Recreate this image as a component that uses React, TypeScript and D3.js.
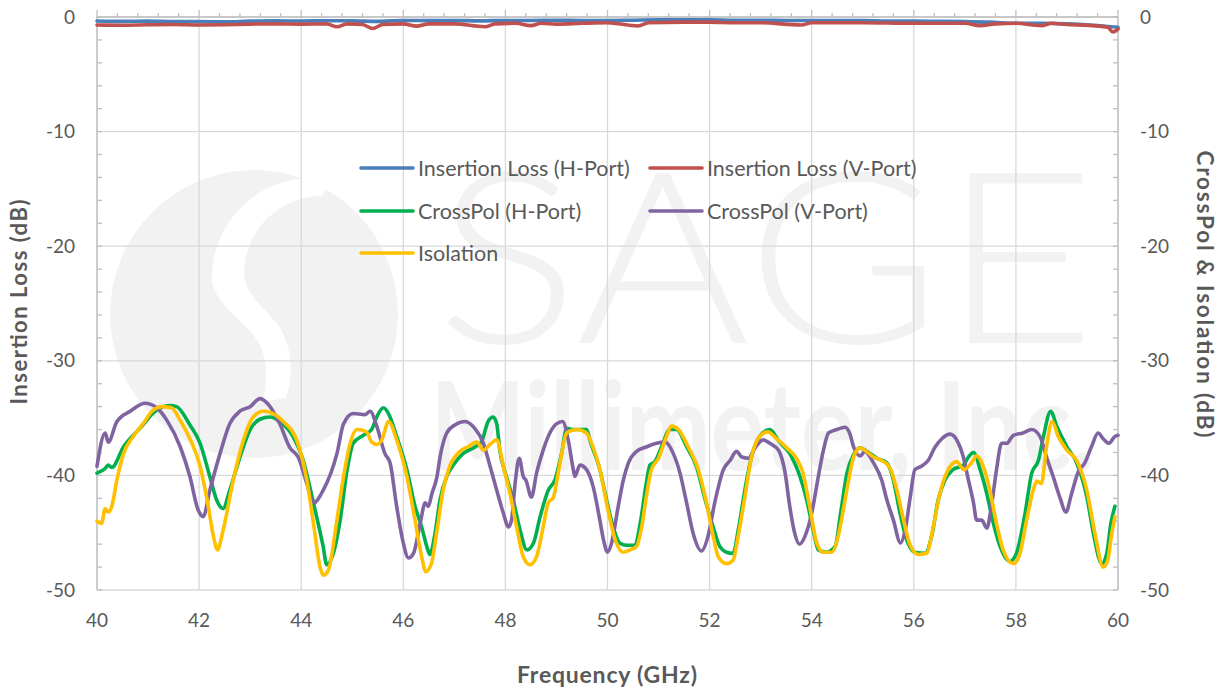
import React from 'react';
import * as d3 from 'd3';

// frequency (GHz) / level (dB) pairs
const insertionLossH: [number, number][] = [
  [40, -0.35], [40.5, -0.38], [41, -0.36], [41.5, -0.4], [42, -0.4], [42.5, -0.42], [43, -0.36],
  [43.5, -0.34], [44, -0.35], [44.5, -0.33], [45, -0.34], [45.5, -0.38], [46, -0.3], [46.5, -0.32],
  [47, -0.3], [47.5, -0.34], [48, -0.3], [48.5, -0.3], [49, -0.28], [49.5, -0.3], [50, -0.3],
  [50.5, -0.28], [51, -0.25], [51.5, -0.25], [52, -0.25], [52.5, -0.28], [53, -0.28], [53.5, -0.3],
  [54, -0.3], [54.5, -0.32], [55, -0.32], [55.5, -0.35], [56, -0.35], [56.5, -0.38], [57, -0.4],
  [57.5, -0.45], [58, -0.55], [58.5, -0.55], [59, -0.6], [59.5, -0.72], [60, -0.9],
];

const insertionLossV: [number, number][] = [
  [40, -0.7], [40.5, -0.72], [41, -0.68], [41.5, -0.66], [42, -0.7], [42.5, -0.68], [43, -0.62],
  [43.5, -0.6], [44, -0.62], [44.5, -0.6], [44.7, -0.85], [44.9, -0.6], [45.2, -0.65], [45.4, -1.0],
  [45.6, -0.65], [46, -0.6], [46.26, -0.8], [46.5, -0.6], [47, -0.6], [47.6, -0.85], [47.8, -0.6],
  [48.2, -0.55], [48.5, -0.75], [48.7, -0.55], [49, -0.62], [49.5, -0.55], [50, -0.5], [50.6, -0.78],
  [50.8, -0.5], [51.5, -0.45], [52, -0.45], [52.5, -0.5], [53, -0.5], [53.8, -0.7], [54, -0.5],
  [55, -0.5], [56, -0.55], [57, -0.55], [57.3, -0.75], [57.6, -0.6], [58, -0.55], [58.5, -0.75],
  [58.7, -0.55], [59, -0.65], [59.5, -0.75], [59.8, -0.9], [59.9, -1.3], [60, -1.05],
];

const crossPolH: [number, number][] = [
  [40, -39.8], [40.16, -39.4], [40.22, -39.1], [40.29, -39.3], [40.52, -37.5], [40.84, -35.9],
  [41.17, -34.3], [41.43, -33.9], [41.56, -34.0], [41.82, -35.6], [42.02, -37.2], [42.21, -40.1],
  [42.34, -42.1], [42.47, -42.9], [42.6, -41.3], [42.8, -38.4], [43.0, -36.0], [43.19, -35.1],
  [43.39, -34.9], [43.58, -35.3], [43.84, -36.6], [44.04, -38.7], [44.24, -42.4], [44.43, -46.2],
  [44.5, -47.8], [44.63, -46.8], [44.76, -44.0], [44.9, -39.5], [45.02, -37.2], [45.22, -36.5],
  [45.38, -36.0], [45.48, -34.9], [45.61, -34.1], [45.71, -34.6], [45.87, -36.6], [46.07, -39.5],
  [46.23, -42.7], [46.36, -44.5], [46.46, -46.2], [46.52, -46.9], [46.62, -45.1], [46.72, -42.1],
  [46.85, -40.1], [46.98, -39.1], [47.17, -38.1], [47.37, -37.6], [47.53, -37.1], [47.66, -35.3],
  [47.76, -34.9], [47.83, -35.5], [47.89, -37.8], [48.02, -40.1], [48.15, -42.1], [48.29, -44.8],
  [48.42, -46.5], [48.55, -45.9], [48.68, -43.6], [48.84, -41.3], [48.97, -40.4], [49.1, -38.1],
  [49.2, -35.9], [49.33, -36.0], [49.59, -36.0], [49.66, -37.0], [49.85, -39.5], [49.98, -42.1],
  [50.11, -44.5], [50.24, -45.9], [50.37, -46.1], [50.54, -46.1], [50.64, -44.2], [50.77, -40.4],
  [50.83, -39.1], [50.93, -38.8], [51.06, -37.5], [51.22, -36.0], [51.35, -36.0], [51.55, -37.5],
  [51.74, -39.2], [51.9, -41.9], [52.07, -44.5], [52.2, -46.2], [52.33, -46.7], [52.46, -46.8],
  [52.56, -44.8], [52.69, -41.3], [52.82, -38.4], [52.98, -36.6], [53.18, -36.0], [53.37, -37.1],
  [53.57, -38.1], [53.77, -40.1], [53.9, -42.1], [54.03, -44.8], [54.13, -46.5], [54.29, -46.7],
  [54.46, -46.2], [54.57, -43.2], [54.69, -39.8], [54.82, -38.2], [54.95, -37.6], [55.08, -37.9],
  [55.28, -38.5], [55.47, -38.9], [55.6, -40.4], [55.73, -43.3], [55.86, -45.6], [56.02, -46.7],
  [56.22, -46.8], [56.35, -45.3], [56.48, -42.1], [56.61, -40.4], [56.77, -39.5], [56.97, -39.1],
  [57.07, -38.4], [57.17, -38.0], [57.3, -39.5], [57.43, -41.6], [57.56, -44.2], [57.69, -46.2],
  [57.88, -47.5], [58.01, -46.8], [58.18, -43.3], [58.31, -39.8], [58.44, -38.7], [58.54, -36.6],
  [58.68, -34.4], [58.8, -35.7], [59.0, -37.5], [59.19, -38.9], [59.39, -41.9], [59.52, -45.1],
  [59.68, -47.7], [59.78, -46.8], [59.86, -44.2], [59.94, -42.7],
];

const crossPolV: [number, number][] = [
  [40, -39.2], [40.16, -36.3], [40.22, -37.1], [40.39, -35.3], [40.65, -34.4], [40.94, -33.7],
  [41.17, -34.1], [41.37, -35.2], [41.63, -37.5], [41.82, -40.1], [41.98, -43.0], [42.08, -43.6],
  [42.21, -41.3], [42.41, -38.1], [42.6, -35.5], [42.8, -34.4], [43.0, -34.0], [43.19, -33.3],
  [43.39, -34.0], [43.58, -35.5], [43.78, -37.6], [43.94, -38.4], [44.11, -40.7], [44.24, -42.4],
  [44.43, -41.3], [44.7, -38.1], [44.83, -35.5], [45.02, -34.6], [45.25, -34.7], [45.35, -34.4],
  [45.48, -35.7], [45.64, -38.1], [45.74, -38.9], [45.87, -42.7], [46.0, -45.9], [46.1, -47.2],
  [46.2, -46.8], [46.33, -44.2], [46.43, -42.4], [46.49, -42.7], [46.56, -41.6], [46.66, -40.1],
  [46.72, -38.4], [46.85, -36.3], [47.01, -35.6], [47.21, -35.3], [47.4, -35.9], [47.57, -37.2],
  [47.7, -39.2], [47.83, -41.3], [47.96, -43.3], [48.06, -44.5], [48.12, -43.9], [48.19, -40.7],
  [48.27, -38.5], [48.35, -40.1], [48.4, -40.4], [48.51, -41.9], [48.61, -39.8], [48.74, -37.8],
  [48.87, -36.3], [49.0, -35.5], [49.12, -35.3], [49.23, -36.9], [49.33, -39.5], [49.36, -40.1],
  [49.46, -39.1], [49.59, -39.5], [49.72, -41.0], [49.85, -43.9], [49.92, -45.6], [50.0, -46.7],
  [50.08, -45.9], [50.21, -42.7], [50.31, -40.4], [50.41, -38.9], [50.57, -37.9], [50.77, -37.5],
  [50.96, -37.2], [51.13, -37.1], [51.29, -38.1], [51.42, -39.8], [51.55, -42.4], [51.68, -45.1],
  [51.84, -46.6], [51.97, -45.3], [52.1, -42.4], [52.27, -39.5], [52.4, -38.7], [52.53, -37.9],
  [52.63, -38.4], [52.76, -38.5], [52.89, -37.6], [53.05, -36.9], [53.18, -37.2], [53.35, -37.8],
  [53.48, -39.8], [53.57, -42.7], [53.67, -45.1], [53.76, -46.0], [53.87, -45.3], [54.0, -43.3],
  [54.13, -40.1], [54.23, -37.8], [54.33, -36.3], [54.49, -36.0], [54.65, -35.8], [54.75, -36.4],
  [54.82, -37.5], [54.95, -38.3], [55.04, -37.9], [55.21, -38.9], [55.37, -40.4], [55.47, -42.1],
  [55.6, -43.9], [55.74, -45.9], [55.83, -44.8], [55.93, -41.9], [56.02, -39.5], [56.15, -39.2],
  [56.28, -38.7], [56.42, -37.5], [56.55, -36.8], [56.71, -36.4], [56.84, -36.9], [56.97, -38.4],
  [57.07, -40.4], [57.17, -42.4], [57.23, -43.9], [57.33, -43.9], [57.43, -44.6], [57.52, -42.7],
  [57.62, -39.5], [57.72, -37.2], [57.82, -37.2], [57.95, -36.5], [58.14, -36.3], [58.31, -36.0],
  [58.47, -36.6], [58.6, -38.4], [58.73, -40.1], [58.86, -41.9], [58.98, -43.2], [59.09, -41.6],
  [59.22, -39.7], [59.35, -38.9], [59.48, -37.5], [59.61, -36.3], [59.71, -36.8], [59.82, -37.2],
  [59.94, -36.6], [60, -36.5],
];

const isolation: [number, number][] = [
  [40, -44.0], [40.09, -44.2], [40.16, -42.9], [40.22, -43.2], [40.29, -42.7], [40.39, -40.4],
  [40.52, -38.1], [40.71, -36.6], [40.9, -35.5], [41.1, -34.3], [41.27, -34.0], [41.46, -34.1],
  [41.63, -35.2], [41.82, -36.8], [42.02, -39.2], [42.18, -42.7], [42.28, -45.3], [42.36, -46.5],
  [42.47, -44.8], [42.67, -40.4], [42.87, -36.9], [43.06, -34.9], [43.26, -34.4], [43.45, -34.6],
  [43.65, -35.3], [43.91, -36.9], [44.11, -40.4], [44.24, -44.2], [44.37, -48.0], [44.43, -48.7],
  [44.53, -48.3], [44.7, -43.9], [44.83, -40.1], [44.96, -37.2], [45.09, -36.0], [45.28, -36.2],
  [45.38, -37.1], [45.48, -37.3], [45.58, -36.9], [45.71, -35.3], [45.87, -36.9], [46.07, -40.1],
  [46.23, -43.9], [46.36, -47.1], [46.44, -48.4], [46.55, -47.7], [46.66, -44.8], [46.78, -41.3],
  [46.91, -39.2], [47.11, -37.9], [47.27, -37.5], [47.44, -37.1], [47.57, -37.8], [47.7, -37.3],
  [47.83, -36.9], [47.96, -39.2], [48.09, -41.6], [48.22, -44.5], [48.35, -47.1], [48.48, -47.8],
  [48.61, -47.1], [48.74, -44.5], [48.84, -42.4], [48.94, -41.9], [49.07, -38.9], [49.2, -36.3],
  [49.4, -36.0], [49.59, -36.3], [49.66, -36.9], [49.85, -39.5], [50.01, -43.0], [50.15, -45.6],
  [50.31, -46.7], [50.44, -46.5], [50.57, -46.2], [50.67, -44.5], [50.77, -41.6], [50.86, -39.5],
  [51.0, -38.5], [51.13, -36.9], [51.26, -35.7], [51.39, -36.0], [51.58, -37.5], [51.78, -39.5],
  [51.94, -42.4], [52.07, -45.3], [52.17, -47.1], [52.33, -47.7], [52.46, -47.4], [52.56, -45.3],
  [52.69, -41.9], [52.82, -38.4], [52.98, -36.6], [53.14, -36.2], [53.31, -36.8], [53.51, -37.6],
  [53.7, -38.5], [53.83, -39.8], [53.96, -42.7], [54.1, -45.9], [54.23, -46.7], [54.39, -46.7],
  [54.52, -45.3], [54.62, -43.0], [54.72, -40.5], [54.82, -38.4], [54.95, -37.6], [55.04, -37.8],
  [55.21, -38.4], [55.41, -38.8], [55.54, -39.4], [55.67, -41.3], [55.8, -43.9], [55.93, -46.1],
  [56.09, -46.9], [56.25, -46.8], [56.38, -44.5], [56.51, -41.6], [56.64, -39.8], [56.84, -38.8],
  [56.98, -39.5], [57.13, -38.9], [57.23, -38.3], [57.36, -39.2], [57.49, -41.3], [57.62, -44.2],
  [57.75, -46.5], [57.95, -47.7], [58.08, -46.8], [58.21, -43.9], [58.34, -41.3], [58.41, -40.5],
  [58.5, -40.7], [58.6, -37.5], [58.71, -35.3], [58.83, -36.6], [59.0, -37.8], [59.19, -38.7],
  [59.39, -41.3], [59.55, -45.1], [59.71, -48.0], [59.8, -47.4], [59.87, -45.3], [59.94, -43.6],
];

const seriesNames = [
  'Insertion Loss (H-Port)', 'Insertion Loss (V-Port)', 'CrossPol (H-Port)', 'CrossPol (V-Port)', 'Isolation',
];
const seriesColors = ['#4a7ebb', '#c0504d', '#00b050', '#8064a2', '#ffc000'];
const xTicks = [40, 42, 44, 46, 48, 50, 52, 54, 56, 58, 60];
const yTicks = [0, -10, -20, -30, -40, -50];

const W = 1225;
const H = 691;
const FONT = 'Lato, "Open Sans", sans-serif';
const TXT = '#595959';
const MARK = '#f2f2f2';

export default function App() {
  const x = d3.scaleLinear().domain([40, 60]).range([97, 1118]);
  const y = d3.scaleLinear().domain([-50, 0]).range([590, 17]);

  const line = d3.line<[number, number]>()
    .x(d => x(d[0]))
    .y(d => y(d[1]))
    .curve(d3.curveMonotoneX);

  const allSeries = [insertionLossH, insertionLossV, crossPolH, crossPolV, isolation];

  const minorX = d3.range(40, 60.001, 0.4);
  const minorY = d3.range(-50, 0.001, 2);

  // legend: two columns, three rows
  const legendPos = [
    [361, 168], [650, 168], [361, 211], [650, 211], [361, 253],
  ];

  return (
    <svg width={W} height={H} style={{ position: 'absolute', left: 0, top: 0, background: '#fff' }}
      fontFamily={FONT}>
      <defs>
        <clipPath id="logoClip">
          <circle cx={254} cy={314} r={144} />
        </clipPath>
      </defs>

      {/* watermark logo + name */}
      <circle cx={254} cy={314} r={144} fill={MARK} />
      <path clipPath="url(#logoClip)" fill="#fff"
        d="M 332 180 A 100 100 0 0 0 212 280 C 214 305, 248 322, 260 345 C 268 362, 268 385, 262 402
           L 286 398 C 294 375, 292 348, 280 328 C 268 310, 246 298, 244 274 A 78 78 0 0 1 322 196 Z" />
      <text x={436} y={343} fontSize={240} fontWeight={300} fill={MARK}
        textLength={660} lengthAdjust="spacingAndGlyphs">SAGE</text>
      <text x={430} y={470} fontSize={122} fontWeight={700} fill={MARK}
        textLength={665} lengthAdjust="spacingAndGlyphs">Millimeter, Inc.</text>

      {/* gridlines */}
      {xTicks.map(t => (
        <line key={'gx' + t} x1={x(t)} x2={x(t)} y1={y(0)} y2={y(-50)} stroke="#d9d9d9" strokeWidth={1.3} />
      ))}
      {yTicks.map(t => (
        <line key={'gy' + t} x1={x(40)} x2={x(60)} y1={y(t)} y2={y(t)} stroke="#d9d9d9" strokeWidth={1.3} />
      ))}

      {/* axes */}
      <line x1={x(40)} x2={x(40)} y1={y(0)} y2={y(-50)} stroke="#bfbfbf" strokeWidth={1.3} />
      <line x1={x(60)} x2={x(60)} y1={y(0)} y2={y(-50)} stroke="#bfbfbf" strokeWidth={1.3} />
      <line x1={x(40)} x2={x(60)} y1={y(0)} y2={y(0)} stroke="#bfbfbf" strokeWidth={1.3} />
      {minorX.map((t, i) => (
        <line key={'tx' + i} x1={x(t)} x2={x(t)} y1={y(0)} y2={y(0) - (i % 5 === 0 ? 7 : 4)}
          stroke="#bfbfbf" strokeWidth={1.3} />
      ))}
      {minorY.map((t, i) => (
        <g key={'ty' + i}>
          <line x1={x(40)} x2={x(40) + 5} y1={y(t)} y2={y(t)} stroke="#bfbfbf" strokeWidth={1.3} />
          <line x1={x(60)} x2={x(60) - 5} y1={y(t)} y2={y(t)} stroke="#bfbfbf" strokeWidth={1.3} />
        </g>
      ))}

      {/* series */}
      {allSeries.map((s, i) => (
        <path key={'s' + i} d={line(s) ?? ''} fill="none" stroke={seriesColors[i]}
          strokeWidth={3.6} strokeLinejoin="round" strokeLinecap="round" />
      ))}

      {/* tick labels */}
      {yTicks.map(t => (
        <text key={'ly' + t} x={75} y={y(t)} dy="0.35em" textAnchor="end" fontSize={19} fill={TXT}>{t}</text>
      ))}
      {yTicks.map(t => (
        <text key={'ry' + t} x={1140} y={y(t)} dy="0.35em" textAnchor="start" fontSize={19} fill={TXT}>{t}</text>
      ))}
      {xTicks.map(t => (
        <text key={'lx' + t} x={x(t)} y={620} dy="0.35em" textAnchor="middle" fontSize={19} fill={TXT}>{t}</text>
      ))}

      {/* axis titles */}
      <text x={607} y={675} dy="0.35em" textAnchor="middle" fontSize={23} fontWeight={700} fill={TXT}
        textLength={180} lengthAdjust="spacing">Frequency (GHz)</text>
      <text transform="translate(19, 302) rotate(-90)" dy="0.35em" textAnchor="middle" fontSize={22}
        fontWeight={700} fill={TXT} textLength={205} lengthAdjust="spacing">Insertion Loss (dB)</text>
      <text transform="translate(1205, 294) rotate(90)" dy="0.35em" textAnchor="middle" fontSize={22.5}
        fontWeight={700} fill={TXT} textLength={287} lengthAdjust="spacing">CrossPol &amp; Isolation (dB)</text>

      {/* legend */}
      {seriesNames.map((n, i) => (
        <g key={'lg' + i} transform={`translate(${legendPos[i][0]}, ${legendPos[i][1]})`}>
          <line x1={0} x2={52} y1={0} y2={0} stroke={seriesColors[i]} strokeWidth={3.6} strokeLinecap="round" />
          <text x={57} y={0} dy="0.35em" fontSize={21.5} fill={TXT}>{n}</text>
        </g>
      ))}
    </svg>
  );
}
